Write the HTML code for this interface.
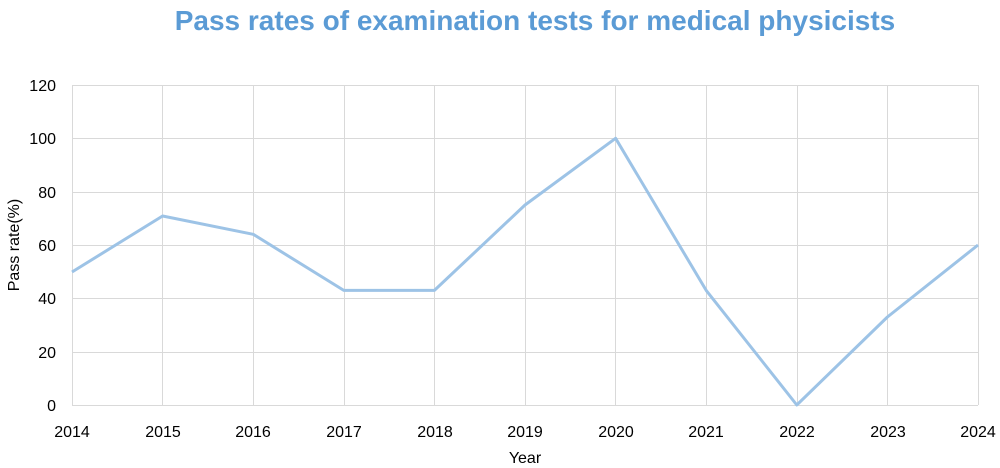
<!DOCTYPE html>
<html><head><style>
body{margin:0;background:#fff;}
svg{display:block;font-family:"Liberation Sans",sans-serif;}
</style></head><body>
<svg width="1000" height="468" xmlns="http://www.w3.org/2000/svg">
<text x="535" y="30" text-anchor="middle" font-size="28" font-weight="bold" fill="#5b9bd5">Pass rates of examination tests for medical physicists</text>
<g stroke="#d9d9d9" stroke-width="1">
<line x1="72" y1="85.5" x2="978" y2="85.5"/>
<line x1="72" y1="138.5" x2="978" y2="138.5"/>
<line x1="72" y1="192.5" x2="978" y2="192.5"/>
<line x1="72" y1="245.5" x2="978" y2="245.5"/>
<line x1="72" y1="298.5" x2="978" y2="298.5"/>
<line x1="72" y1="352.5" x2="978" y2="352.5"/>
<line x1="162.5" y1="85" x2="162.5" y2="405"/>
<line x1="253.5" y1="85" x2="253.5" y2="405"/>
<line x1="344.5" y1="85" x2="344.5" y2="405"/>
<line x1="434.5" y1="85" x2="434.5" y2="405"/>
<line x1="525.5" y1="85" x2="525.5" y2="405"/>
<line x1="615.5" y1="85" x2="615.5" y2="405"/>
<line x1="706.5" y1="85" x2="706.5" y2="405"/>
<line x1="797.5" y1="85" x2="797.5" y2="405"/>
<line x1="887.5" y1="85" x2="887.5" y2="405"/>
<line x1="978.5" y1="85" x2="978.5" y2="405"/>
<line x1="72.5" y1="85" x2="72.5" y2="405"/>
<line x1="72" y1="405.5" x2="978" y2="405.5"/>
</g>
<g font-size="16" fill="#000" text-anchor="end">
<text x="56" y="91">120</text><text x="56" y="144">100</text><text x="56" y="198">80</text>
<text x="56" y="251">60</text><text x="56" y="304">40</text><text x="56" y="358">20</text><text x="56" y="411">0</text>
</g>
<g font-size="16" fill="#000" text-anchor="middle">
<text x="72" y="437">2014</text><text x="163" y="437">2015</text><text x="253" y="437">2016</text>
<text x="344" y="437">2017</text><text x="435" y="437">2018</text><text x="525" y="437">2019</text>
<text x="616" y="437">2020</text><text x="706" y="437">2021</text><text x="797" y="437">2022</text>
<text x="888" y="437">2023</text><text x="978" y="437">2024</text>
<text x="525" y="463">Year</text>
<text transform="translate(19,245) rotate(-90)">Pass rate(%)</text>
</g>
<polyline fill="none" stroke="#9dc3e6" stroke-width="3" stroke-linejoin="round" points="72,272 162.6,216 253.2,234.3 343.8,290.4 434.4,290.4 525,205 615.6,138.3 706.2,290.4 796.8,405 887.4,317 978,245"/>
</svg>
</body></html>
